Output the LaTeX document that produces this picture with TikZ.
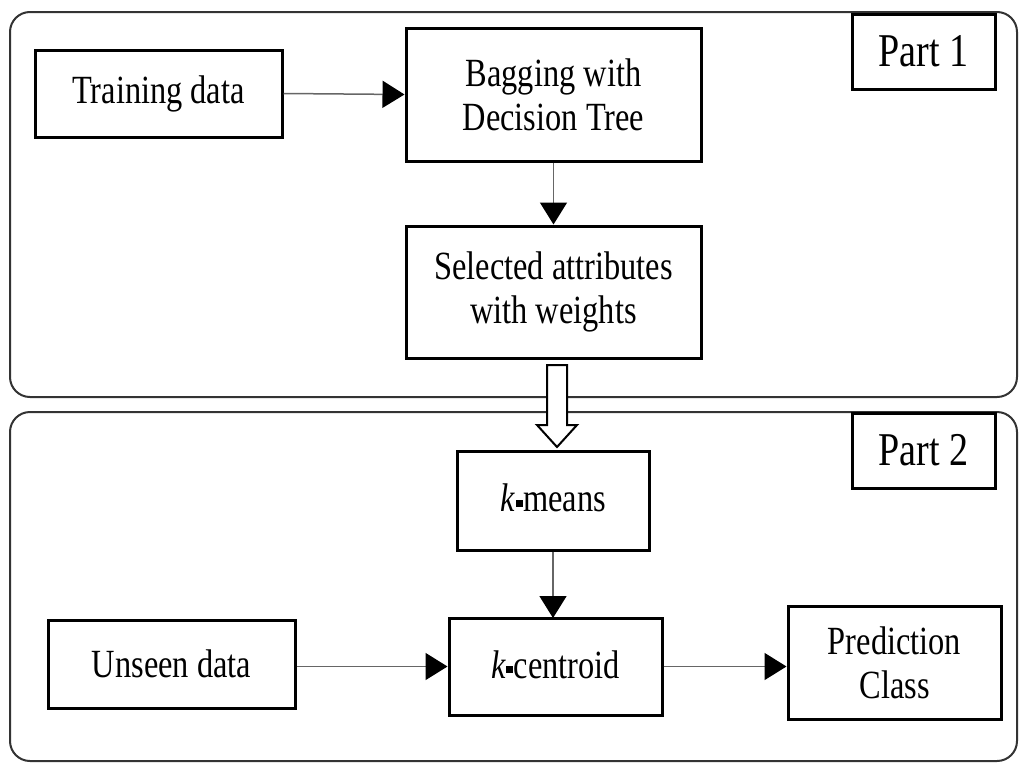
\documentclass[tikz,border=0pt]{standalone}
\usepackage{fontspec}
\setmainfont{Liberation Serif}[FakeStretch=0.81]
\usetikzlibrary{arrows.meta}
\newcommand{\sqdash}{\hspace{0.5pt}\rule[5pt]{7pt}{7pt}\hspace{0.5pt}}
\begin{document}
\begin{tikzpicture}[x=1pt,y=-1pt,
  blk/.style={draw=black,line width=3pt,fill=white,inner sep=0pt,align=center,
    font=\fontsize{40}{44}\selectfont},
  partbox/.style={draw=black,line width=3pt,fill=white,inner sep=0pt,align=center,
    font=\fontsize{47}{50}\selectfont},
  panel/.style={draw=black!80,line width=2pt,rounded corners=20pt},
  conn/.style={draw=black!60,line width=1.5pt,-{Triangle[length=22pt,width=27pt,color=black]}},
  hollow/.style={draw=black,line width=2pt,fill=white,line join=miter}
]
\useasboundingbox (0,0) rectangle (1019,763);
\fill[white] (0,0) rectangle (1019,763);
% panels
\draw[panel] (10,12) rectangle (1017,397);
\draw[panel] (10,412) rectangle (1017,761);
% Part 1
\node[blk,minimum width=247pt,minimum height=87pt] (train) at (158.5,93.5) {Training data};
\node[blk,minimum width=295pt,minimum height=133pt] (bag) at (553.5,94.5) {\raisebox{3pt}{\parbox{280pt}{\centering Bagging with\\Decision Tree}}};
\node[blk,minimum width=295pt,minimum height=132pt] (sel) at (553.5,292) {Selected attributes\\with weights};
\node[partbox,minimum width=143pt,minimum height=75pt] (p1) at (923.5,51.5) {Part 1};
% Part 2
\node[partbox,minimum width=143pt,minimum height=75pt] (p2) at (923.5,450.5) {Part 2};
\node[blk,minimum width=192pt,minimum height=99pt] (km) at (553,500.5) {\raisebox{5pt}{\textit{k}\sqdash means}};
\node[blk,minimum width=213pt,minimum height=97pt] (kc) at (555.5,666.5) {\raisebox{4pt}{\textit{k}\sqdash centroid}};
\node[blk,minimum width=247pt,minimum height=88pt] (unseen) at (171.5,664) {Unseen data};
\node[blk,minimum width=213pt,minimum height=113pt] (pred) at (894.5,662.5) {Prediction\\Class};
% connectors
\draw[conn] (train.east) -- (bag.west);
\draw[conn] (bag.south) -- (sel.north);
\draw[conn] (km.south -| 553,0) -- (553,618);
\draw[conn] (unseen.east |- kc.west) -- (kc.west);
\draw[conn] (kc.east) -- (pred.west |- kc.east);
% hollow arrow from Part 1 to Part 2
\draw[hollow] (547,365) -- (567,365) -- (567,425) -- (577,425) -- (557,447) -- (537,425) -- (547,425) -- cycle;
\end{tikzpicture}
\end{document}
